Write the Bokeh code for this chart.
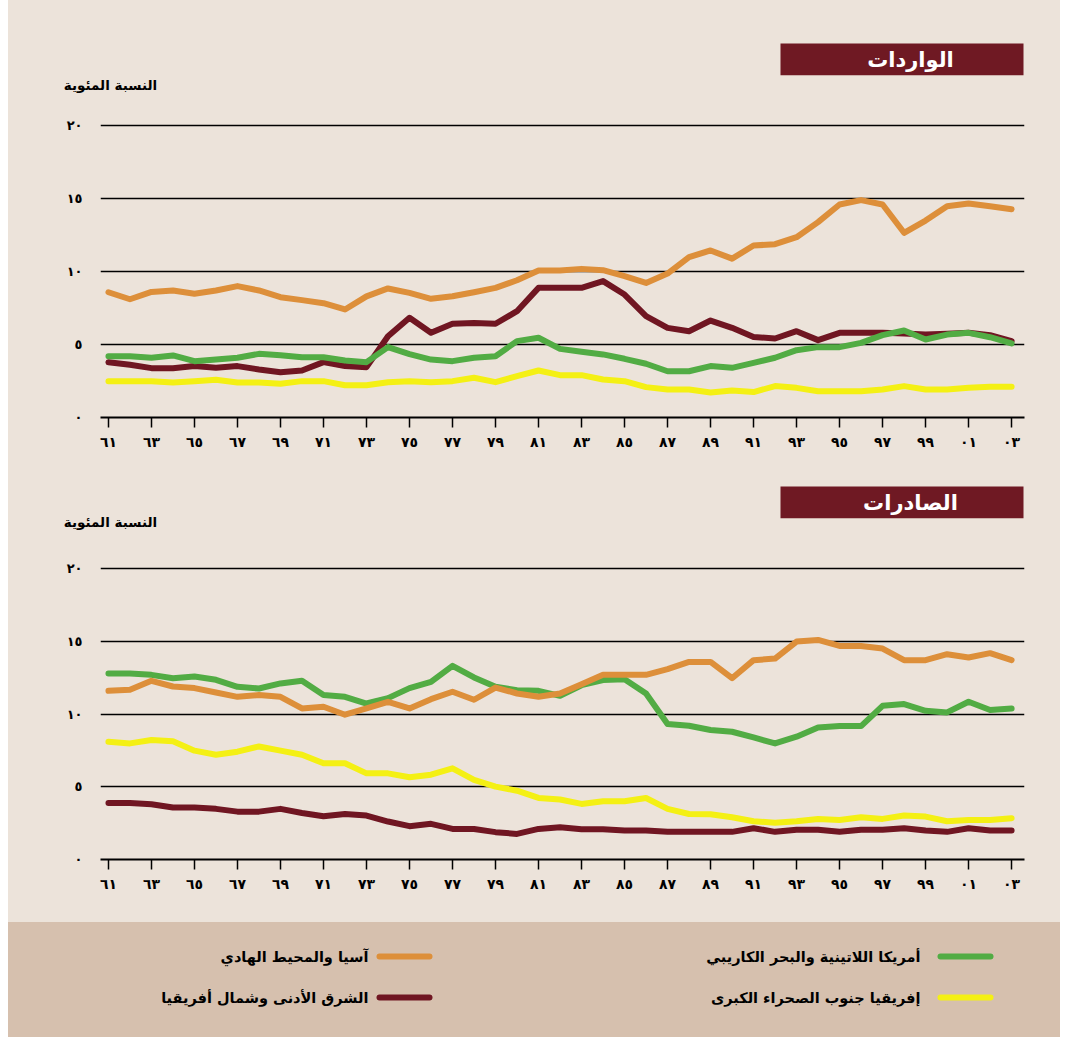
from bokeh.plotting import figure
from bokeh.layouts import column, row
from bokeh.models import Range1d, FixedTicker, LinearAxis, Spacer
from bokeh.core.properties import value
from bokeh.embed import file_html
from bokeh.resources import INLINE

years = list(range(1961, 2004))
x_tick_years = list(range(1961, 2004, 2))
x_tick_labels = ["٦١", "٦٣", "٦٥", "٦٧", "٦٩", "٧١", "٧٣", "٧٥", "٧٧", "٧٩", "٨١",
                 "٨٣", "٨٥", "٨٧", "٨٩", "٩١", "٩٣", "٩٥", "٩٧", "٩٩", "٠١", "٠٣"]
y_ticks = [0, 5, 10, 15, 20]
y_tick_labels = ["٠", "٥", "١٠", "١٥", "٢٠"]

# Imports (الواردات)
imports_asia = [8.58, 8.1, 8.6, 8.7, 8.47, 8.7, 9.0, 8.7, 8.24, 8.04, 7.83, 7.4, 8.3, 8.84, 8.54,
                8.13, 8.3, 8.58, 8.88, 9.4, 10.07, 10.07, 10.18, 10.09, 9.68, 9.22, 9.86, 10.98, 11.44,
                10.88, 11.78, 11.87, 12.35, 13.38, 14.59, 14.89, 14.59, 12.65, 13.49, 14.47, 14.66, 14.47, 14.27]
imports_mena = [3.79, 3.61, 3.38, 3.38, 3.52, 3.4, 3.52, 3.29, 3.1, 3.22, 3.79, 3.52, 3.45, 5.57, 6.83,
                5.8, 6.42, 6.48, 6.42, 7.28, 8.88, 8.88, 8.88, 9.34, 8.42, 6.94, 6.14, 5.91, 6.64,
                6.14, 5.52, 5.41, 5.91, 5.3, 5.8, 5.8, 5.8, 5.75, 5.68, 5.73, 5.8, 5.64, 5.23]
imports_latam = [4.2, 4.2, 4.09, 4.25, 3.86, 3.97, 4.09, 4.36, 4.27, 4.13, 4.13, 3.9, 3.79, 4.82, 4.34,
                 3.97, 3.86, 4.09, 4.2, 5.23, 5.46, 4.7, 4.5, 4.32, 4.02, 3.68, 3.17, 3.17, 3.52,
                 3.4, 3.74, 4.09, 4.61, 4.82, 4.82, 5.11, 5.64, 5.96, 5.34, 5.68, 5.8, 5.5, 5.07]
imports_ssa = [2.49, 2.49, 2.49, 2.4, 2.49, 2.58, 2.4, 2.4, 2.31, 2.49, 2.49, 2.21, 2.21, 2.42, 2.49,
               2.42, 2.49, 2.72, 2.42, 2.83, 3.22, 2.9, 2.9, 2.6, 2.49, 2.08, 1.92, 1.92, 1.71,
               1.85, 1.74, 2.15, 2.03, 1.8, 1.8, 1.8, 1.92, 2.15, 1.92, 1.92, 2.03, 2.1, 2.1]

# Exports (الصادرات)
exports_asia = [11.59, 11.66, 12.28, 11.89, 11.78, 11.48, 11.18, 11.3, 11.18, 10.38, 10.5, 9.95, 10.38, 10.84, 10.38,
                11.02, 11.53, 10.98, 11.82, 11.41, 11.18, 11.41, 12.05, 12.69, 12.69, 12.69, 13.08, 13.58, 13.58,
                12.46, 13.7, 13.81, 14.98, 15.09, 14.68, 14.68, 14.5, 13.7, 13.7, 14.11, 13.88, 14.18, 13.7]
exports_mena = [3.89, 3.89, 3.8, 3.57, 3.57, 3.48, 3.29, 3.29, 3.48, 3.2, 2.97, 3.13, 3.02, 2.61, 2.29,
                2.45, 2.1, 2.1, 1.88, 1.76, 2.1, 2.22, 2.08, 2.08, 1.99, 1.99, 1.9, 1.9, 1.9,
                1.9, 2.15, 1.9, 2.04, 2.04, 1.9, 2.04, 2.04, 2.15, 1.99, 1.9, 2.15, 1.99, 1.99]
exports_latam = [12.78, 12.78, 12.69, 12.46, 12.58, 12.35, 11.87, 11.75, 12.1, 12.28, 11.3, 11.18, 10.72, 11.09, 11.78,
                 12.21, 13.31, 12.51, 11.87, 11.64, 11.59, 11.25, 11.98, 12.33, 12.39, 11.41, 9.31, 9.19, 8.9,
                 8.78, 8.39, 7.98, 8.44, 9.08, 9.17, 9.17, 10.56, 10.68, 10.22, 10.11, 10.84, 10.27, 10.38]
exports_ssa = [8.09, 7.98, 8.21, 8.12, 7.48, 7.2, 7.41, 7.77, 7.48, 7.2, 6.61, 6.61, 5.92, 5.92, 5.65,
               5.83, 6.27, 5.47, 5.01, 4.73, 4.23, 4.12, 3.82, 4.0, 4.0, 4.23, 3.48, 3.13, 3.11,
               2.9, 2.63, 2.52, 2.63, 2.79, 2.72, 2.9, 2.79, 3.02, 2.95, 2.63, 2.72, 2.72, 2.84]

series_names = ["أمريكا اللاتينية والبحر الكاريبي", "إفريقيا جنوب الصحراء الكبرى",
                "آسيا والمحيط الهادي", "الشرق الأدنى وشمال أفريقيا"]
titles = ["الواردات", "الصادرات"]
y_label = "النسبة المئوية"

BG = "#ece3da"
TAN = "#d6c0ae"
BOX = "#6f1923"
C_ASIA = "#dd8f3a"
C_MENA = "#701622"
C_LATAM = "#52ac44"
C_SSA = "#f4f014"
FONT = "DejaVu Sans"
W = 1052
BL, BR = 92, 36


def plain(height, frame_h, fill):
    h = figure(width=W, height=height, x_range=Range1d(BL, W - BR), y_range=Range1d(frame_h, 0),
               output_backend="svg", toolbar_location=None,
               min_border_left=BL, min_border_right=BR, min_border_top=0,
               min_border_bottom=height - frame_h,
               x_axis_location=None, y_axis_location=None)
    h.grid.visible = False
    h.outline_line_color = None
    h.background_fill_color = None
    h.border_fill_color = None
    h.styles = {"background-color": fill}
    return h


def header(height, box_top, box_bottom, label_y, title):
    h = plain(height, box_bottom, BG)
    h.quad(left=[772], right=[1015], top=[box_top], bottom=[box_bottom], fill_color=BOX, line_color=None)
    h.text(x=[902], y=[(box_top + box_bottom) / 2], text=[title], text_color="white",
           text_font=value(FONT), text_font_style="bold", text_font_size="21px",
           text_align="center", text_baseline="middle")
    # y-axis caption, drawn as the single label of an axis below the header frame
    ax = LinearAxis(ticker=FixedTicker(ticks=[102], minor_ticks=[]))
    ax.major_label_overrides = {102: y_label}
    ax.axis_line_color = None
    ax.major_tick_line_color = None
    ax.minor_tick_line_color = None
    ax.major_tick_in = 0
    ax.major_tick_out = 0
    ax.major_label_standoff = int(label_y - 7 - box_bottom)
    ax.major_label_text_font = FONT
    ax.major_label_text_font_style = "bold"
    ax.major_label_text_font_size = "13.5px"
    ax.major_label_text_color = "black"
    h.add_layout(ax, "below")
    return h


def chart(height, y_end, bottom_border, data):
    p = figure(width=W, height=height, x_range=Range1d(1960.63, 2003.6), y_range=Range1d(0, y_end),
               output_backend="svg", toolbar_location=None,
               min_border_left=BL, min_border_right=BR, min_border_top=5, min_border_bottom=bottom_border,
               x_axis_location=None, y_axis_location=None)
    p.outline_line_color = None
    p.background_fill_color = None
    p.border_fill_color = None
    p.styles = {"background-color": BG}
    xa = LinearAxis(ticker=FixedTicker(ticks=x_tick_years, minor_ticks=[]))
    xa.major_label_overrides = {y: l for y, l in zip(x_tick_years, x_tick_labels)}
    xa.axis_line_color = "black"
    xa.axis_line_width = 2
    xa.major_tick_line_color = "black"
    xa.major_tick_line_width = 1.5
    xa.major_tick_in = 0
    xa.major_tick_out = 10
    xa.minor_tick_line_color = None
    xa.major_label_standoff = 6
    xa.major_label_text_font = FONT
    xa.major_label_text_font_style = "bold"
    xa.major_label_text_font_size = "14px"
    xa.major_label_text_color = "black"
    p.add_layout(xa, "below")
    ya = LinearAxis(ticker=FixedTicker(ticks=y_ticks, minor_ticks=[]))
    ya.major_label_overrides = {t: l for t, l in zip(y_ticks, y_tick_labels)}
    ya.axis_line_color = None
    ya.major_tick_line_color = None
    ya.major_tick_in = 0
    ya.major_tick_out = 0
    ya.minor_tick_line_color = None
    ya.major_label_standoff = 18
    ya.major_label_text_font = FONT
    ya.major_label_text_font_style = "bold"
    ya.major_label_text_font_size = "13px"
    ya.major_label_text_color = "black"
    p.add_layout(ya, "left")
    p.xgrid.visible = False
    p.ygrid.ticker = FixedTicker(ticks=y_ticks)
    p.ygrid.grid_line_color = "black"
    p.ygrid.grid_line_width = 1.5
    for vals, col in data:
        p.line(years, vals, line_color=col, line_width=6, line_join="round", line_cap="round")
    return p


h1 = header(100, 43, 75, 83, titles[0])
c1 = chart(365, 312 / 14.6, 48, [(imports_ssa, C_SSA), (imports_mena, C_MENA),
                                 (imports_latam, C_LATAM), (imports_asia, C_ASIA)])
h2 = header(80, 21, 53, 55, titles[1])
c2 = chart(377, 309 / 14.55, 63, [(exports_ssa, C_SSA), (exports_mena, C_MENA),
                                  (exports_latam, C_LATAM), (exports_asia, C_ASIA)])

lg = plain(115, 115, TAN)
legend_items = [(series_names[0], C_LATAM, 932, 34, 20), (series_names[1], C_SSA, 932, 75, 20),
                (series_names[2], C_ASIA, 371, 34, 11), (series_names[3], C_MENA, 371, 75, 11)]
for name, col, lx, ly, gap in legend_items:
    lg.line([lx, lx + 50], [ly, ly], line_color=col, line_width=6, line_cap="round")
    lg.text(x=[lx - gap], y=[ly], text=[name], text_color="black", text_font=value(FONT),
            text_font_style="bold", text_font_size="14.5px", text_align="right", text_baseline="middle")

charts = column(h1, c1, h2, c2, lg, spacing=0, styles={"background-color": BG})
layout = row(Spacer(width=8, height=1037), charts, spacing=0)
open("out.html", "w").write(file_html(layout, INLINE))
